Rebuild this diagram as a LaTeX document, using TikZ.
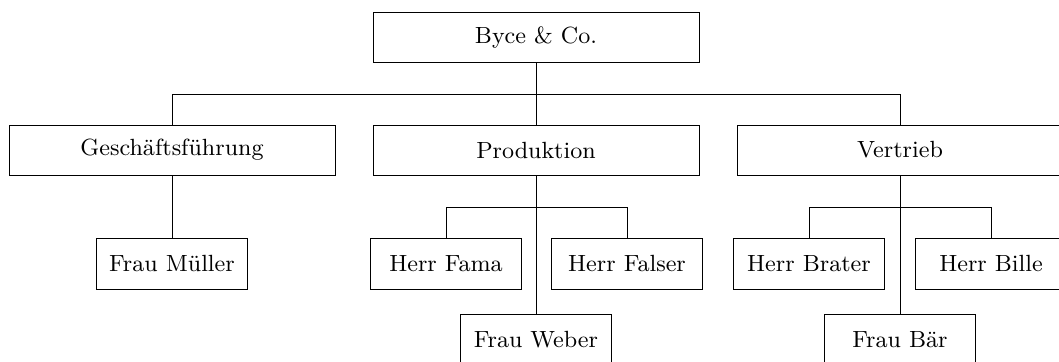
\documentclass[tikz,border=0pt]{standalone}
\usepackage{tikz}
\usepackage{graphicx}
% Schrift in 9pt-Optik, auf 10pt vergroessert
\newcommand{\orgtxt}[1]{\scalebox{1.1111}{\fontsize{9}{11}\selectfont #1}}

\begin{document}
\begin{tikzpicture}[
    abt/.style={draw, rectangle, minimum width=4.89cm, minimum height=0.75cm, inner sep=2pt},
    pers/.style={draw, rectangle, minimum width=2.27cm, minimum height=0.765cm, inner sep=2pt}]
    % Rahmen des Bildes
    \useasboundingbox (0,0) rectangle (15.885,-5.43);
    \clip (0,0) rectangle (15.885,-5.43);

    % Firma
    \node[abt] (firma) at (8.04,-0.5625) {\orgtxt{Byce \& Co.}};

    % Abteilungen
    \node[abt] (gf)   at (2.58,-2.25)  {\orgtxt{Geschäftsführung}};
    \node[abt] (prod) at (8.04,-2.25)  {\orgtxt{Produktion}};
    \node[abt] (vert) at (13.5,-2.25)  {\orgtxt{Vertrieb}};

    % Mitarbeiter
    \node[pers] (mueller) at (2.58,-3.9525)   {\orgtxt{Frau Müller}};
    \node[pers] (fama)    at (6.69,-3.9525)   {\orgtxt{Herr Fama}};
    \node[pers] (falser)  at (9.405,-3.9525)  {\orgtxt{Herr Falser}};
    \node[pers] (weber)   at (8.04,-5.0925)   {\orgtxt{Frau Weber}};
    \node[pers] (brater)  at (12.135,-3.9525) {\orgtxt{Herr Brater}};
    \node[pers] (bille)   at (14.865,-3.9525) {\orgtxt{Herr Bille}};
    \node[pers] (baer)    at (13.5,-5.0925)   {\orgtxt{Frau Bär}};

    % Verbindungen
    \foreach \k in {gf,prod,vert} {
        \draw (firma.south) -- ++(0,-0.4725) -| (\k.north);
    }
    \draw (gf.south) -- (mueller.north);
    \foreach \k in {fama,falser} {
        \draw (prod.south) -- ++(0,-0.4725) -| (\k.north);
    }
    \draw (prod.south) -- (weber.north);
    \foreach \k in {brater,bille} {
        \draw (vert.south) -- ++(0,-0.4725) -| (\k.north);
    }
    \draw (vert.south) -- (baer.north);
\end{tikzpicture}
\end{document}
